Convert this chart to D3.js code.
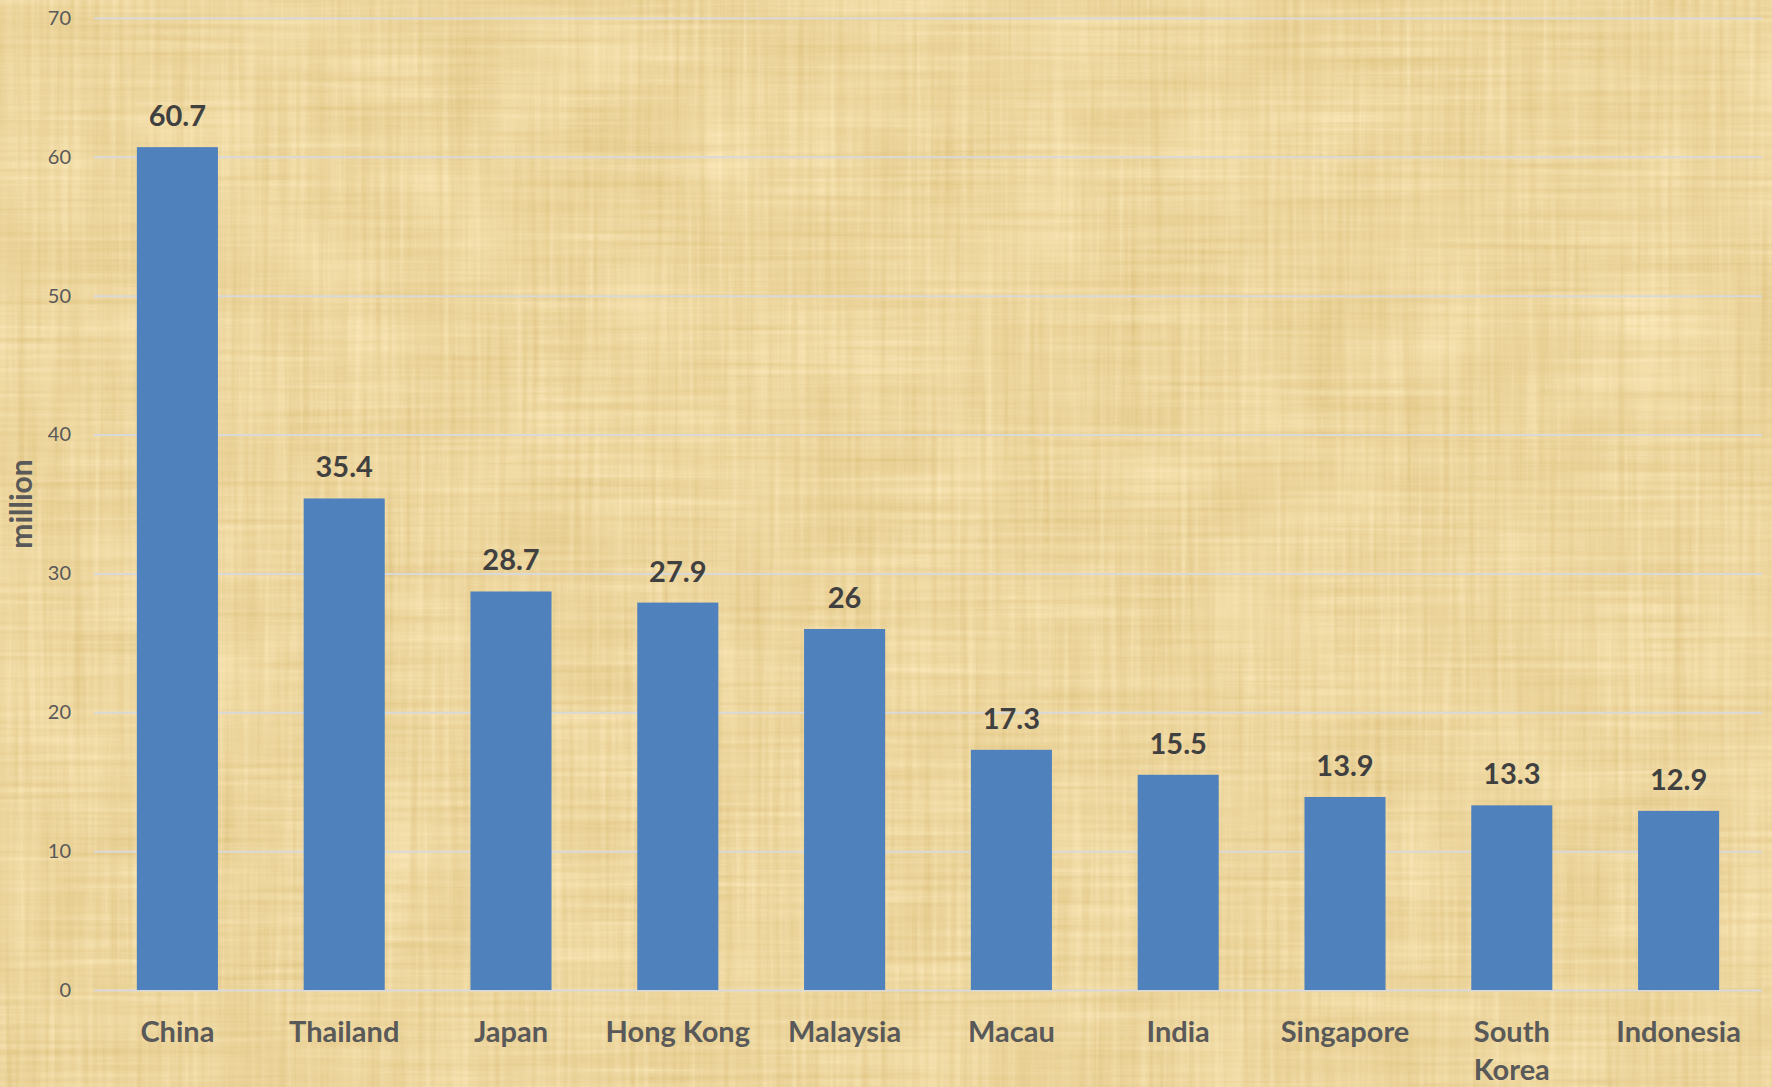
<!DOCTYPE html>
<html>
<head>
<meta charset="utf-8">
<script src="https://cdn.jsdelivr.net/npm/d3@7"></script>
<style>
  html, body { margin: 0; padding: 0; background: #ecd49a; }
  svg { display: block; }
  text { font-family: Lato, "Open Sans", "DejaVu Sans", sans-serif; }
</style>
</head>
<body>
<svg id="chart" width="1772" height="1087"></svg>
<script>
// Visitor arrivals by destination, in millions
const categories = ["China", "Thailand", "Japan", "Hong Kong", "Malaysia",
                    "Macau", "India", "Singapore", "South Korea", "Indonesia"];
const values = [60.7, 35.4, 28.7, 27.9, 26, 17.3, 15.5, 13.9, 13.3, 12.9];
const yTicks = [0, 10, 20, 30, 40, 50, 60, 70];
const yLabel = "million";

const W = 1772, H = 1087;
const svg = d3.select("#chart");

// Parchment-like background built from stretched noise
const defs = svg.append("defs");
const f = defs.append("filter").attr("id", "paper")
  .attr("x", 0).attr("y", 0).attr("width", 1).attr("height", 1)
  .attr("color-interpolation-filters", "sRGB");
f.append("feTurbulence").attr("type", "fractalNoise")
  .attr("baseFrequency", "0.004 0.16").attr("numOctaves", 3).attr("seed", 4).attr("result", "hs");
f.append("feTurbulence").attr("type", "fractalNoise")
  .attr("baseFrequency", "0.16 0.004").attr("numOctaves", 3).attr("seed", 9).attr("result", "vs");
f.append("feTurbulence").attr("type", "fractalNoise")
  .attr("baseFrequency", "0.01 0.01").attr("numOctaves", 2).attr("seed", 2).attr("result", "bl");
f.append("feComposite").attr("in", "hs").attr("in2", "vs").attr("operator", "arithmetic")
  .attr("k1", 0).attr("k2", 0.5).attr("k3", 0.5).attr("k4", 0).attr("result", "hv");
f.append("feComposite").attr("in", "hv").attr("in2", "bl").attr("operator", "arithmetic")
  .attr("k1", 0).attr("k2", 0.75).attr("k3", 0.25).attr("k4", 0).attr("result", "mix");
f.append("feColorMatrix").attr("in", "mix").attr("type", "matrix")
  .attr("values",
    "0.18 0 0 0 0.840 " +
    "0.24 0 0 0 0.720 " +
    "0.36 0 0 0 0.440 " +
    "0 0 0 0 1");

svg.append("rect").attr("width", W).attr("height", H).attr("fill", "#eed69d");
svg.append("rect").attr("width", W).attr("height", H).attr("filter", "url(#paper)");

// Scales
const x = d3.scaleBand().domain(categories).range([94, 1762])
  .paddingInner(0.514).paddingOuter(0.257);
const y = d3.scaleLinear().domain([0, 70]).range([990, 18]);

// Gridlines and value axis
const yAxis = svg.append("g").attr("transform", "translate(94,0)")
  .call(d3.axisLeft(y).tickValues(yTicks).tickSize(-(1762 - 94)).tickPadding(23));
yAxis.select(".domain").remove();
yAxis.selectAll(".tick line").attr("stroke", "#d9d9d9").attr("stroke-width", 2);
yAxis.selectAll(".tick text")
  .attr("fill", "#595959").attr("font-size", 20)
  .attr("font-family", "Lato, 'Open Sans', sans-serif");

// Bars
svg.append("g").selectAll("rect").data(values).join("rect")
  .attr("x", (d, i) => x(categories[i]))
  .attr("y", d => y(d))
  .attr("width", x.bandwidth())
  .attr("height", d => y(0) - y(d))
  .attr("fill", "#4f81bd");

// Value labels
svg.append("g").selectAll("text").data(values).join("text")
  .attr("x", (d, i) => x(categories[i]) + x.bandwidth() / 2)
  .attr("y", d => y(d) - 21)
  .attr("text-anchor", "middle")
  .attr("font-weight", "bold").attr("font-size", 29)
  .attr("fill", "#404040")
  .text(d => d);

// Category axis
const xAxis = svg.append("g").attr("transform", "translate(0,990)")
  .call(d3.axisBottom(x).tickSize(0).tickPadding(0));
xAxis.select(".domain").remove();
xAxis.selectAll(".tick text")
  .attr("y", 52).attr("dy", null)
  .attr("fill", "#595959").attr("font-size", 29).attr("font-weight", "bold")
  .attr("font-family", "Lato, 'Open Sans', sans-serif")
  .each(function(d) {
    const words = d.split(" ");
    if (d === "South Korea") {
      const t = d3.select(this).text(null);
      words.forEach((w, i) => t.append("tspan").attr("x", 0)
        .attr("y", 52 + i * 38).text(w));
    }
  });

// Value axis title
svg.append("text")
  .attr("transform", "translate(32,504) rotate(-90)")
  .attr("text-anchor", "middle")
  .attr("font-weight", "bold").attr("font-size", 30)
  .attr("fill", "#595959")
  .text(yLabel);
</script>
</body>
</html>
